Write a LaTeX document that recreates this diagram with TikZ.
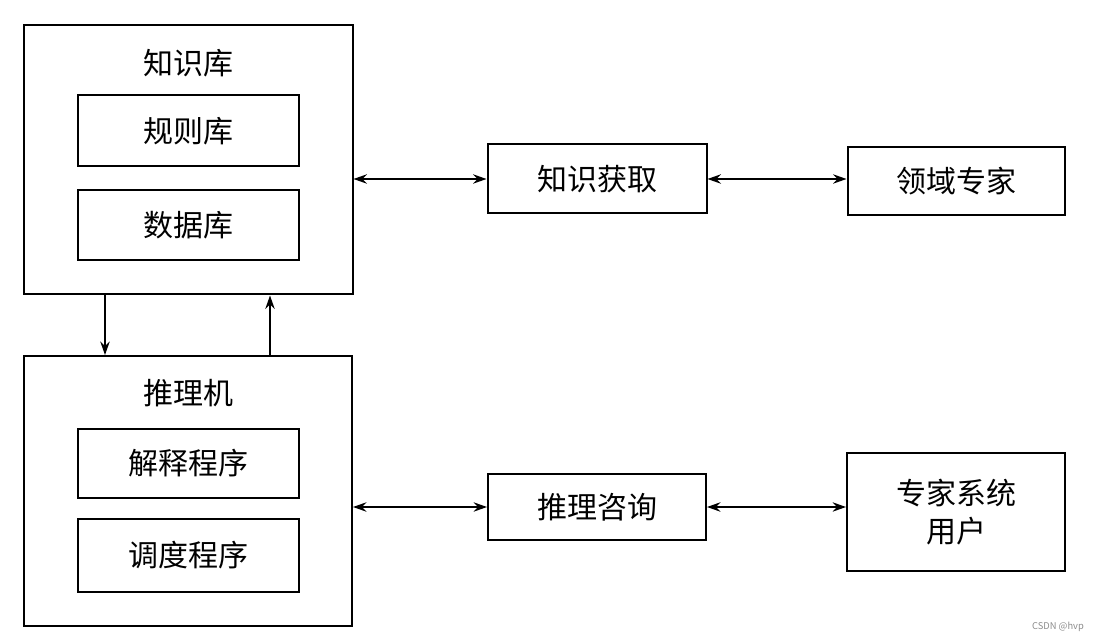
\documentclass[tikz,border=0pt]{standalone}
\usepackage{fontspec}
\setmainfont{Noto Sans CJK SC}
\usetikzlibrary{arrows.meta}

\begin{document}
\begin{tikzpicture}[x=0.75pt, y=-0.75pt, line width=1.5pt,
    box/.style 2 args={draw, inner sep=0pt, align=center,
      minimum width=#1*0.75pt, minimum height=#2*0.75pt,
      font=\fontsize{22.5}{28}\selectfont},
    lab/.style={inner sep=0pt, font=\fontsize{22.5}{28}\selectfont},
    link/.style={line width=1.4pt, {Stealth[length=10pt,width=7pt]}-{Stealth[length=10pt,width=7pt]}},
    flow/.style={line width=1.4pt, -{Stealth[length=10pt,width=7pt]}}]
  \useasboundingbox (0,0) rectangle (1098,641);
  % ---- left column ---------------------------------------------------
  \node[box={329}{269}] (kb) at (188,160) {};
  \node[lab] (kbtitle) at (188,63) {知识库};
  \node[box={221}{71}] (rules) at (188,131) {规则库};
  \node[box={221}{70}] (data) at (188,225) {数据库};
  \node[box={328}{270}] (ie) at (188,491) {};
  \node[lab] (ietitle) at (188,393) {推理机};
  \node[box={221}{69}] (expl) at (188,463) {解释程序};
  \node[box={221}{73}] (sched) at (188,555) {调度程序};
  % ---- middle and right ----------------------------------------------
  \node[box={219}{69}] (acq) at (597,179) {知识获取};
  \node[box={217}{68}] (expert) at (956,181) {领域专家};
  \node[box={218}{66}] (query) at (597,507) {推理咨询};
  \node[box={218}{118}] (user) at (956,512) {专家系统\\[1pt]用户};
  % ---- connectors ----------------------------------------------------
  \coordinate (dn) at (105,325);
  \coordinate (up) at (270,325);
  \draw[flow] (kb.south -| dn) -- (ie.north -| dn);
  \draw[flow] (ie.north -| up) -- (kb.south -| up);
  \draw[link] (kb.east |- acq) -- (acq.west);
  \draw[link] (acq.east) -- (acq.east -| expert.west);
  \draw[link] (ie.east |- query) -- (query.west);
  \draw[link] (query.east) -- (query.east -| user.west);
  % watermark
  \node[inner sep=0pt, text=black!45, font=\fontsize{7}{8}\selectfont] (mark) at (1058,627) {CSDN @hvp};
\end{tikzpicture}
\end{document}
